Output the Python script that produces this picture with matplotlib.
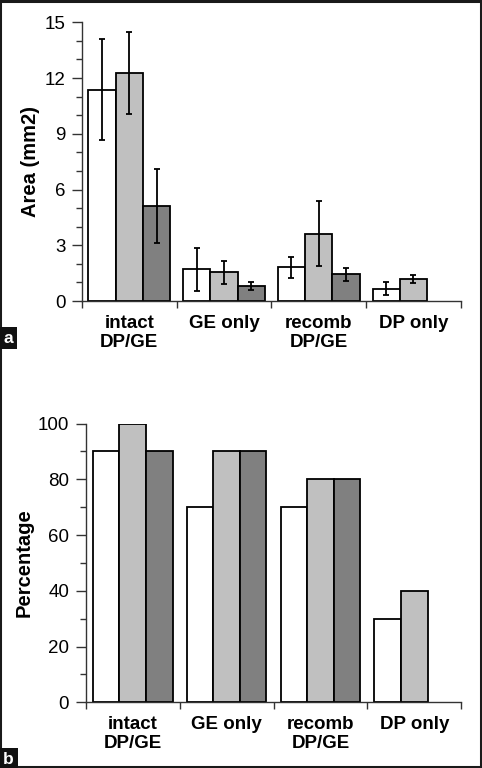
import numpy as np
import matplotlib
matplotlib.use("Agg")
import matplotlib.pyplot as plt
from matplotlib.ticker import MultipleLocator
from matplotlib.patches import Rectangle

plt.rcParams['font.family'] = ['Liberation Sans', 'DejaVu Sans']

categories = ["intact\nDP/GE", "GE only", "recomb\nDP/GE", "DP only"]

# Panel a: area (mm2), mean and error
area_white = [11.38, 1.70, 1.81, 0.65]
area_white_err = [2.70, 1.15, 0.58, 0.35]
area_light = [12.28, 1.54, 3.62, 1.20]
area_light_err = [2.20, 0.63, 1.74, 0.22]
area_dark = [5.12, 0.81, 1.43, np.nan]
area_dark_err = [2.00, 0.24, 0.33, np.nan]

# Panel b: percentage
pct_white = [90, 70, 70, 30]
pct_light = [100, 90, 80, 40]
pct_dark = [90, 90, 80, np.nan]

colors = ["#ffffff", "#c0c0c0", "#808080"]

fig = plt.figure(figsize=(4.82, 7.68), dpi=100)

def style_axes(ax, ymax, major, minor, ylabel, lp):
    ax.set_xlim(-0.5, 3.5)
    ax.set_ylim(0, ymax)
    ax.yaxis.set_major_locator(MultipleLocator(major))
    ax.yaxis.set_minor_locator(MultipleLocator(minor))
    ax.set_xticks([-0.5, 0.5, 1.5, 2.5, 3.5])
    ax.set_xticklabels([])
    ax.set_xticks([0, 1, 2, 3], minor=True)
    ax.set_xticklabels(categories, minor=True, fontsize=13.5, fontweight='bold',
                       linespacing=1.15)
    ax.tick_params(axis='x', which='major', direction='out', length=5, width=1, color='#333333')
    ax.tick_params(axis='x', which='minor', length=0, pad=10)
    ax.tick_params(axis='y', which='major', direction='out', length=7, width=1,
                   labelsize=13.5, pad=5, color='#333333')
    ax.tick_params(axis='y', which='minor', direction='out', length=4, width=1, color='#333333')
    for s in ['top', 'right']:
        ax.spines[s].set_visible(False)
    for s in ['left', 'bottom']:
        ax.spines[s].set_color('#333333')
        ax.spines[s].set_linewidth(1)
    ax.set_ylabel(ylabel, fontsize=14.5, fontweight='bold', labelpad=lp)

x = np.arange(len(categories))

# Panel a
ax1 = fig.add_axes([0.170, 0.608, 0.786, 0.363])
w = 0.288
series_a = [(area_white, area_white_err), (area_light, area_light_err), (area_dark, area_dark_err)]
for i, (vals, errs) in enumerate(series_a):
    ax1.bar(x + (i - 1) * w, vals, w, color=colors[i], edgecolor='black', linewidth=1.3, zorder=2)
    ax1.errorbar(x + (i - 1) * w, vals, yerr=errs, fmt='none', ecolor='black',
                 elinewidth=1.3, capsize=2.4, capthick=1.3, zorder=3)
style_axes(ax1, 15, 3, 1, "Area (mm2)", 3)

# Panel b
ax2 = fig.add_axes([0.178, 0.0855, 0.779, 0.363])
w2 = 0.283
series_b = [pct_white, pct_light, pct_dark]
for i, vals in enumerate(series_b):
    ax2.bar(x + (i - 1) * w2, vals, w2, color=colors[i], edgecolor='black', linewidth=1.3, zorder=2)
style_axes(ax2, 100, 20, 10, "Percentage", 3)

# Panel letters
fig.text(0.018, 1 - 338 / 768, "a", color='white', fontsize=12.5, fontweight='bold',
         ha='center', va='center',
         bbox=dict(boxstyle='square,pad=0.22', facecolor='#111111', edgecolor='none'))
fig.text(0.018, 1 - 759 / 768, "b", color='white', fontsize=12.5, fontweight='bold',
         ha='center', va='center',
         bbox=dict(boxstyle='square,pad=0.22', facecolor='#111111', edgecolor='none'))

# Outer frame
fig.patches.append(Rectangle((0.001, 0.001), 0.997, 0.998, transform=fig.transFigure,
                             fill=False, edgecolor='#1a1a1a', linewidth=2.2))

fig.savefig("out.png", dpi=100)
